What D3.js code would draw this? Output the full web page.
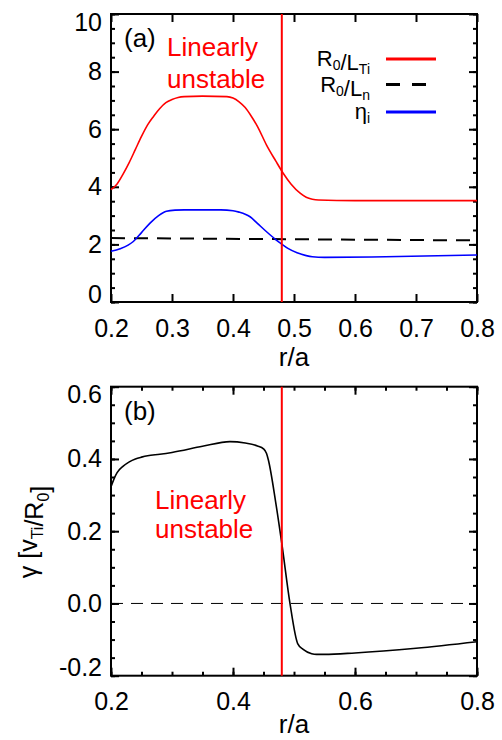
<!doctype html>
<html>
<head>
<meta charset="utf-8">
<title>gradient and growth rate profiles</title>
<script src="https://d3js.org/d3.v7.min.js"></script>
<style>
  body { margin:0; background:#fff; }
  svg { display:block; font-family:"Liberation Sans", Arial, sans-serif; }
  .axis path { display:none; }
  .axis line { stroke:#000; stroke-width:2px; }
  .axis text { font-size:25px; fill:#000; }
  .frame { fill:none; stroke:#000; stroke-width:2px; }
  .title { font-size:26px; fill:#000; }
  .red { fill:#ff0000; font-size:26px; }
</style>
</head>
<body>
<svg id="chart" width="502" height="740"></svg>
<script>

// (a) R0/LTi, R0/Ln, eta_i versus r/a
var rLTi = [0.20, 0.21, 0.22, 0.23, 0.24, 0.25, 0.26, 0.27, 0.28, 0.29, 0.30, 0.31, 0.32, 0.35, 0.39, 0.40, 0.41, 0.42, 0.43, 0.44, 0.455, 0.47, 0.482, 0.495, 0.51, 0.52, 0.53, 0.54, 0.60, 0.70, 0.80]
var vLTi = [3.9, 4.1, 4.45, 4.85, 5.3, 5.75, 6.15, 6.45, 6.72, 6.92, 7.03, 7.1, 7.13, 7.15, 7.13, 7.08, 6.95, 6.75, 6.45, 6.1, 5.45, 4.9, 4.48, 4.1, 3.78, 3.64, 3.57, 3.54, 3.52, 3.52, 3.52]
var rEta = [0.20, 0.215, 0.2366, 0.25, 0.264, 0.278, 0.291, 0.305, 0.32, 0.38, 0.40, 0.41, 0.42, 0.428, 0.44, 0.455, 0.47, 0.48, 0.49, 0.505, 0.52, 0.53, 0.55, 0.65, 0.80]
var vEta = [1.76, 1.85, 2.1, 2.41, 2.74, 3.0, 3.15, 3.19, 3.2, 3.2, 3.17, 3.12, 3.05, 2.96, 2.73, 2.44, 2.17, 2.01, 1.86, 1.71, 1.61, 1.57, 1.55, 1.57, 1.63]
var rLn = [0.20, 0.79]
var vLn = [2.22, 2.14]

// (b) growth rate gamma versus r/a
var rGamma = [0.20, 0.205, 0.21, 0.22, 0.23, 0.24, 0.25, 0.26, 0.28, 0.30, 0.35, 0.395, 0.42, 0.44, 0.45, 0.455, 0.458, 0.47, 0.48, 0.4934, 0.506, 0.515, 0.529, 0.537, 0.55, 0.60, 0.70, 0.80]
var vGamma = [0.323, 0.345, 0.362, 0.38, 0.392, 0.4, 0.405, 0.409, 0.413, 0.418, 0.435, 0.448, 0.444, 0.436, 0.428, 0.415, 0.397, 0.28, 0.166, 0.0, -0.111, -0.127, -0.139, -0.141, -0.141, -0.137, -0.124, -0.106]
var rZero = [0.20, 0.79]
var vZero = [0, 0]

var rCrit = 0.48   // red vertical line

// ticks
var xMajorA = [0.2, 0.3, 0.4, 0.5, 0.6, 0.7, 0.8]
var yMajorA = [0, 2, 4, 6, 8, 10]
var yMinorA = d3.range(0, 10.01, 0.5)
var xMajorB = [0.2, 0.4, 0.6, 0.8]
var xMinorB = d3.range(0.2, 0.801, 0.05)
var yMajorB = [-0.2, 0.0, 0.2, 0.4, 0.6]
var yMinorB = d3.range(-0.2, 0.601, 0.05)

var svg = d3.select("#chart")
var left = 111, right = 477

var xA = d3.scaleLinear().domain([0.2, 0.8]).range([left, right])
var yA = d3.scaleLinear().domain([0, 10]).range([302, 14])
var xB = d3.scaleLinear().domain([0.2, 0.8]).range([left, right])
var yB = d3.scaleLinear().domain([-0.2, 0.6]).range([675.7, 386.7])

function frame(x, y, xMaj, xMin, yMaj, yMin, fx, fy) {
  var y0 = y.range()[0], y1 = y.range()[1]
  var g = svg.append("g")

  // minor ticks on all four sides
  if (xMin) {
    g.append("g").attr("class", "axis").attr("transform", "translate(0," + y0 + ")")
      .call(d3.axisBottom(x).tickValues(xMin).tickSize(-4).tickFormat(""))
    g.append("g").attr("class", "axis").attr("transform", "translate(0," + y1 + ")")
      .call(d3.axisTop(x).tickValues(xMin).tickSize(-4).tickFormat(""))
  }
  g.append("g").attr("class", "axis").attr("transform", "translate(" + left + ",0)")
    .call(d3.axisLeft(y).tickValues(yMin).tickSize(-4).tickFormat(""))
  g.append("g").attr("class", "axis").attr("transform", "translate(" + right + ",0)")
    .call(d3.axisRight(y).tickValues(yMin).tickSize(-4).tickFormat(""))

  // major ticks with labels
  g.append("g").attr("class", "axis").attr("transform", "translate(0," + y0 + ")")
    .call(d3.axisBottom(x).tickValues(xMaj).tickSize(-8).tickPadding(17).tickFormat(fx))
  g.append("g").attr("class", "axis").attr("transform", "translate(0," + y1 + ")")
    .call(d3.axisTop(x).tickValues(xMaj).tickSize(-8).tickFormat(""))
  var ly = g.append("g").attr("class", "axis").attr("transform", "translate(" + left + ",0)")
    .call(d3.axisLeft(y).tickValues(yMaj).tickSize(-8).tickPadding(9).tickFormat(fy))
  g.append("g").attr("class", "axis").attr("transform", "translate(" + right + ",0)")
    .call(d3.axisRight(y).tickValues(yMaj).tickSize(-8).tickFormat(""))

  // end labels pulled inside the frame
  var n = yMaj.length
  ly.selectAll(".tick text").attr("transform", function(d, i) {
    if (i == 0) return "translate(0,-8)"
    if (i == n - 1) return "translate(0,8)"
    return null
  })

  g.append("rect").attr("class", "frame")
    .attr("x", left).attr("y", y1)
    .attr("width", right - left).attr("height", y0 - y1)
}

function curve(x, y, rs, vs, color, width, dash, kind) {
  var pts = rs.map(function(r, i) { return [r, vs[i]] })
  var line = d3.line()
    .x(function(d) { return x(d[0]) })
    .y(function(d) { return y(d[1]) })
    .curve(kind || d3.curveMonotoneX)
  svg.append("path")
    .attr("d", line(pts))
    .attr("fill", "none")
    .attr("stroke", color)
    .attr("stroke-width", width)
    .attr("stroke-dasharray", dash)
}

function label(t, x, y, parts, anchor, size, subSize, shift) {
  var txt = t.append("text").attr("x", x).attr("y", y)
    .attr("text-anchor", anchor).style("font-size", size + "px")
  parts.forEach(function(p) {
    if (p.sub) {
      txt.append("tspan").attr("dy", shift).style("font-size", subSize + "px").text(p.sub)
      txt.append("tspan").attr("dy", -shift).text("")
    } else {
      txt.append("tspan").text(p.t)
    }
  })
  return txt
}

// ---------- panel (a)
frame(xA, yA, xMajorA, null, yMajorA, yMinorA, d3.format(".1f"), d3.format("d"))

curve(xA, yA, rLn, vLn, "#000", 2, "14,9")
curve(xA, yA, rLTi, vLTi, "#ff0000", 1.6)
curve(xA, yA, rEta, vEta, "#0000ff", 1.6)

svg.append("line")
  .attr("x1", xA(rCrit)).attr("x2", xA(rCrit))
  .attr("y1", yA(10)).attr("y2", yA(0))
  .attr("stroke", "#ff0000").attr("stroke-width", 2)

svg.append("text").attr("class", "title").attr("x", 124).attr("y", 47).text("(a)")
svg.append("text").attr("class", "red").attr("x", 167).attr("y", 56).text("Linearly")
svg.append("text").attr("class", "red").attr("x", 167).attr("y", 88).text("unstable")

// legend
var legendNames = [
  [{t:"R"}, {sub:"0"}, {t:"/L"}, {sub:"Ti"}],
  [{t:"R"}, {sub:"0"}, {t:"/L"}, {sub:"n"}],
  [{t:"η"}, {sub:"i"}]
]
var legendColors = ["#ff0000", "#000", "#0000ff"]
var legendDash = [null, "14,12", null]
var legendY = [59, 84.5, 112]
var leg = svg.append("g")
legendNames.forEach(function(parts, i) {
  label(leg, 370, legendY[i] + 7, parts, "end", 22, 14, 4)
  leg.append("line")
    .attr("x1", 386).attr("x2", 436)
    .attr("y1", legendY[i]).attr("y2", legendY[i])
    .attr("stroke", legendColors[i]).attr("stroke-width", 3)
    .attr("stroke-dasharray", legendDash[i])
})

svg.append("text").attr("class", "title").attr("x", 294).attr("y", 366)
  .attr("text-anchor", "middle").text("r/a")

// ---------- panel (b)
var fmt1 = function(d) { return d.toFixed(1) }
frame(xB, yB, xMajorB, xMinorB, yMajorB, yMinorB, fmt1, fmt1)

curve(xB, yB, rZero, vZero, "#000", 1, "12,8")
curve(xB, yB, rGamma, vGamma, "#000", 1.6)

svg.append("line")
  .attr("x1", xB(rCrit)).attr("x2", xB(rCrit))
  .attr("y1", yB(0.6)).attr("y2", yB(-0.2))
  .attr("stroke", "#ff0000").attr("stroke-width", 2)

svg.append("text").attr("class", "title").attr("x", 124).attr("y", 420).text("(b)")
svg.append("text").attr("class", "red").attr("x", 155).attr("y", 509).text("Linearly")
svg.append("text").attr("class", "red").attr("x", 155).attr("y", 538).text("unstable")

svg.append("text").attr("class", "title").attr("x", 294).attr("y", 733)
  .attr("text-anchor", "middle").text("r/a")

var yl = svg.append("g").attr("transform", "translate(37,532) rotate(-90)")
label(yl, 0, 0, [{t:"γ [v"}, {sub:"Ti"}, {t:"/R"}, {sub:"0"}, {t:"]"}], "middle", 25, 16, 6)

</script>
</body>
</html>
